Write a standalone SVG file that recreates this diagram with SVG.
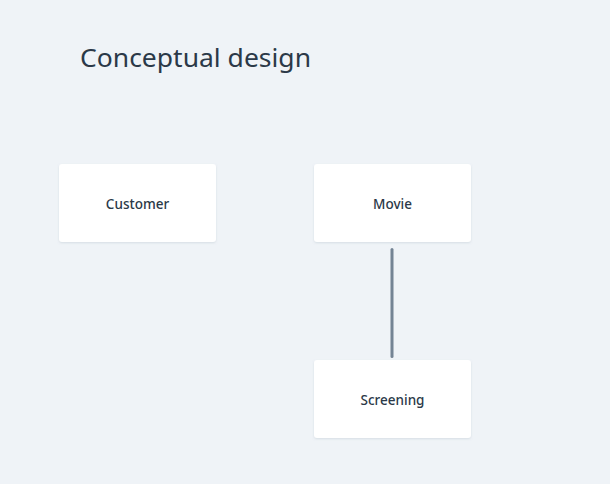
<svg xmlns="http://www.w3.org/2000/svg" width="610" height="484" viewBox="0 0 610 484">
<defs>
<filter id="sh" x="-5%" y="-5%" width="110%" height="115%">
<feDropShadow dx="0" dy="1" stdDeviation="0.8" flood-color="#8a9aab" flood-opacity="0.25"/>
</filter>
</defs>
<style>
.node rect{fill:#ffffff;filter:url(#sh)}
.node text{font-family:"Noto Sans","DejaVu Sans",sans-serif;font-size:13.5px;font-weight:500;fill:#2b3948;text-anchor:middle;dominant-baseline:central}
.title{font-family:"Noto Sans","DejaVu Sans",sans-serif;font-size:26px;fill:#2b3948}
.edge{stroke:#748494;stroke-width:3;stroke-linecap:round;fill:none}
</style>
<rect width="610" height="484" fill="#eff3f7"/>
<text class="title" x="80" y="67" textLength="231" lengthAdjust="spacingAndGlyphs">Conceptual design</text>
<g id="connectors">
<line class="edge" x1="392" y1="249.5" x2="392" y2="356.5"/>
</g>
<g id="customer" class="node">
<rect x="59" y="164" width="157" height="78" rx="3"/>
<text x="137.5" y="204">Customer</text>
</g>
<g id="movie" class="node">
<rect x="314" y="164" width="157" height="78" rx="3"/>
<text x="392.5" y="204">Movie</text>
</g>
<g id="screening" class="node">
<rect x="314" y="360" width="157" height="78" rx="3"/>
<text x="392.5" y="400">Screening</text>
</g>
</svg>
